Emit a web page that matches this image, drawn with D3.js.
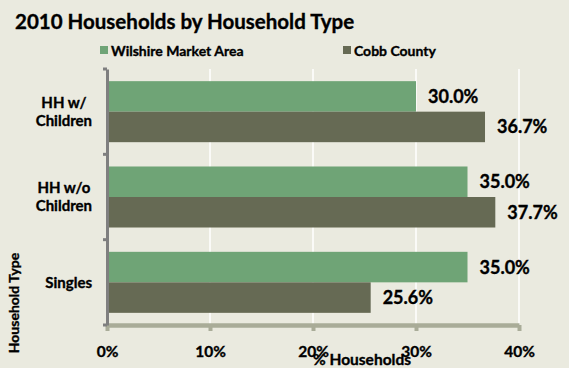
<!DOCTYPE html>
<html>
<head>
<meta charset="utf-8">
<script src="https://cdn.jsdelivr.net/npm/d3@7"></script>
<style>
  html, body { margin: 0; padding: 0; background: #eaeadf; }
  svg { display: block; }
  text { font-family: Lato, "Open Sans", sans-serif; font-weight: bold; fill: #000; stroke: #000; stroke-width: 0.35px; }
</style>
</head>
<body>
<script>
// Household type shares, 2010
const categories = [["HH w/", "Children"], ["HH w/o", "Children"], ["Singles"]];
const seriesNames = ["Wilshire Market Area", "Cobb County"];
const wilshire = [30.0, 35.0, 35.0];
const cobb = [36.7, 37.7, 25.6];
const xTicks = [0, 10, 20, 30, 40];

const W = 569, H = 368;
const colors = ["#6fa476", "#666a54"];
const margin = { left: 107, right: 50, top: 69, bottom: 43 };

const svg = d3.select("body").append("svg").attr("width", W).attr("height", H);
svg.append("rect").attr("width", W).attr("height", H).attr("fill", "#eaeadf");

const keys = categories.map(c => c.join(" "));
const x = d3.scaleLinear().domain([0, 40]).range([margin.left, W - margin.right]);
const y = d3.scaleBand().domain(keys).range([margin.top, H - margin.bottom])
  .paddingInner(0.285).paddingOuter(0.1425);
const inner = d3.scaleBand().domain([0, 1]).range([0, y.bandwidth()]);

// Title
svg.append("text").attr("x", 15).attr("y", 29).attr("font-size", 20.5).text("2010 Households by Household Type");

// Legend
const legendX = [100, 343];
seriesNames.forEach((n, i) => {
  svg.append("rect").attr("x", legendX[i]).attr("y", 46).attr("width", 8).attr("height", 8).attr("fill", colors[i]);
  svg.append("text").attr("x", legendX[i] + 11).attr("y", 55.5).attr("font-size", 14).text(n);
});

// Vertical gridlines
svg.append("g").selectAll("line").data(xTicks.slice(1)).join("line")
  .attr("x1", d => x(d)).attr("x2", d => x(d))
  .attr("y1", margin.top).attr("y2", H - margin.bottom)
  .attr("stroke", "#ffffff").attr("stroke-width", 1.5);

// Bars
const groups = svg.append("g").selectAll("g").data(keys).join("g")
  .attr("transform", d => `translate(0,${y(d)})`);
const rows = (i) => [wilshire[i], cobb[i]];
groups.each(function (k, i) {
  const g = d3.select(this);
  g.selectAll("rect").data(rows(i)).join("rect")
    .attr("x", x(0)).attr("y", (d, j) => inner(j))
    .attr("width", d => x(d) - x(0)).attr("height", inner.bandwidth())
    .attr("fill", (d, j) => colors[j]);
  g.selectAll("text").data(rows(i)).join("text")
    .attr("x", d => x(d) + 12).attr("y", (d, j) => inner(j) + inner.bandwidth() / 2)
    .attr("dy", "0.36em").attr("font-size", 18)
    .text(d => d.toFixed(1) + "%");
});

// X axis
const xAxis = svg.append("g").attr("transform", `translate(0,${H - margin.bottom})`)
  .call(d3.axisBottom(x).tickValues(xTicks).tickFormat(d => d + "%").tickSize(6).tickSizeOuter(0).tickPadding(15));
xAxis.select(".domain").attr("stroke", "#a9ac98").attr("stroke-width", 4.5);
xAxis.selectAll(".tick line").attr("stroke", "#a9ac98").attr("stroke-width", 4);
xAxis.selectAll(".tick text").attr("font-size", 15.5).attr("font-family", "Lato, sans-serif").attr("font-weight", "bold").attr("fill", "#000");

// Y axis
const yAxis = svg.append("g").attr("transform", `translate(${margin.left},0)`)
  .call(d3.axisLeft(y).tickValues([]).tickSizeOuter(0));
yAxis.select(".domain").attr("stroke", "#7f7f7f").attr("stroke-width", 3);
const bounds = [margin.top].concat(keys.map(k => y(k) + y.bandwidth() + y.step() * y.paddingInner() / 2));
bounds[bounds.length - 1] = H - margin.bottom;
yAxis.selectAll("line.bnd").data(bounds).join("line").attr("class", "bnd")
  .attr("x1", -4).attr("x2", 0).attr("y1", d => d).attr("y2", d => d)
  .attr("stroke", "#7f7f7f").attr("stroke-width", 3);

// Category labels
const labelRight = margin.left - 15;
keys.forEach((k, i) => {
  const lines = categories[i];
  const t = svg.append("text").attr("font-size", 15).attr("text-anchor", "middle");
  const tspans = lines.map((l, j) => t.append("tspan").text(l));
  const maxW = d3.max(tspans, s => s.node().getComputedTextLength());
  const cx = labelRight - maxW / 2;
  const cy = y(k) + y.bandwidth() / 2;
  const lh = 18;
  tspans.forEach((s, j) => s.attr("x", cx).attr("y", cy + (j - (lines.length - 1) / 2) * lh).attr("dy", "0.36em"));
});

// Axis titles
svg.append("text").attr("x", 362).attr("y", 365).attr("text-anchor", "middle").attr("font-size", 15.5).text("% Households");
svg.append("text").attr("transform", "translate(19,303) rotate(-90)").attr("text-anchor", "middle").attr("font-size", 14).text("Household Type");
</script>
</body>
</html>
